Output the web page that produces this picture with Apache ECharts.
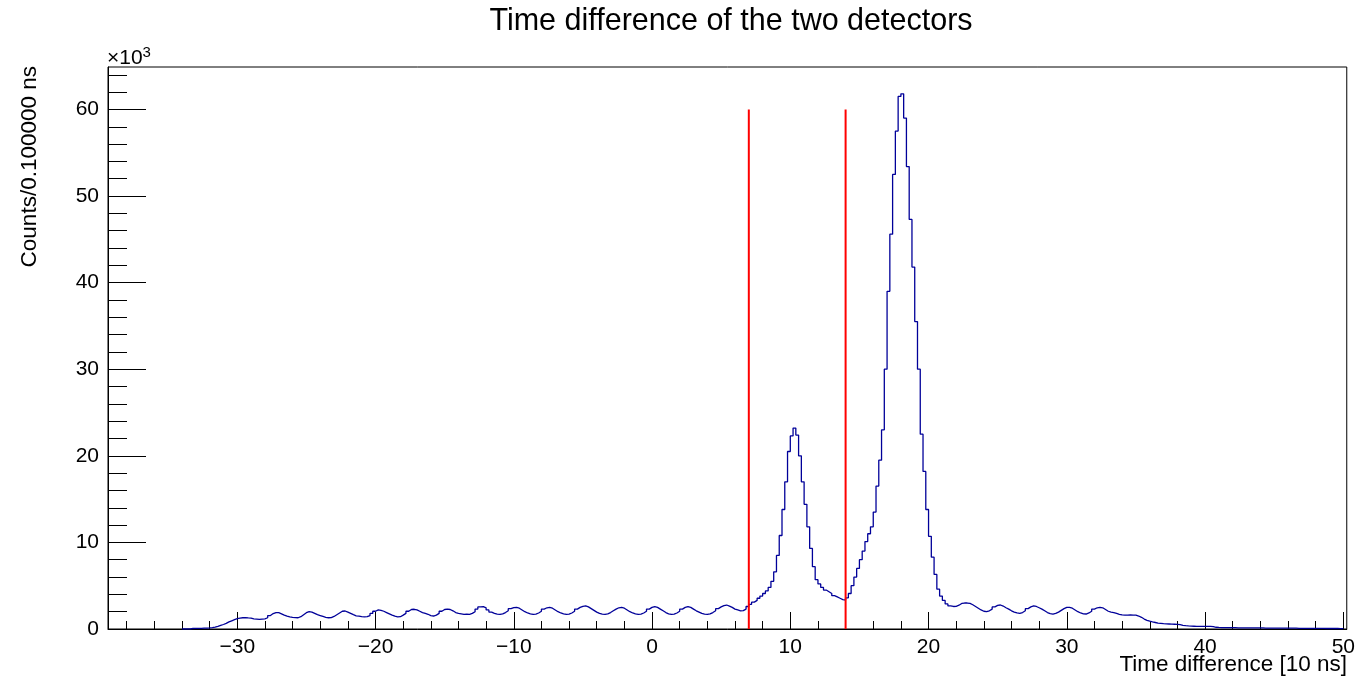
<!DOCTYPE html>
<html>
<head>
<meta charset="utf-8">
<script src="https://cdn.jsdelivr.net/npm/echarts@6.0.0/dist/echarts.min.js"></script>
<style>
html,body{margin:0;padding:0;background:#fff;}
#chart{width:1358px;height:681px;}
</style>
</head>
<body>
<div id="chart"></div>
<script>
// ---- data (counts in units of 10^3, bins of 0.2 starting at -34) ----
var binStart = -34;
var binWidth = 0.2;
var counts = [
0,0,0,0.06,0.08, 0.08,0.08,0.09,0.1,0.12, 0.16,0.22,0.3,0.42,0.52, 0.65,0.82,0.95,1.08,1.2,
1.25,1.3,1.32,1.28,1.25, 1.18,1.15,1.12,1.15,1.18, 1.3,1.55,1.78,1.9,1.88, 1.75,1.6,1.48,1.4,1.35,
1.32,1.3,1.42,1.65,1.88, 2.0,1.95,1.8,1.65,1.55, 1.45,1.35,1.3,1.32,1.45, 1.65,1.85,2.05,2.08,1.95,
1.8,1.65,1.52,1.48,1.42, 1.4,1.42,1.55,1.8,2.05, 2.2,2.15,2.05,1.9,1.75, 1.6,1.48,1.4,1.42,1.6,
1.8,2.05,2.25,2.28,2.2, 2.05,1.9,1.8,1.7,1.55, 1.5,1.6,1.8,2.05,2.25, 2.3,2.25,2.1,1.9,1.8,
1.75,1.7,1.72,1.7,1.8, 2.0,2.3,2.55,2.58,2.45, 2.2,1.95,1.8,1.72,1.7, 1.75,1.9,2.1,2.35,2.48,
2.5,2.4,2.2,2.0,1.85, 1.75,1.7,1.72,1.85,2.05, 2.3,2.45,2.5,2.4,2.2, 2.0,1.85,1.75,1.7,1.72,
1.85,2.05,2.3,2.5,2.62, 2.66,2.55,2.35,2.15,1.95, 1.8,1.72,1.7,1.75,1.9, 2.1,2.3,2.45,2.5,2.4,
2.2,2.0,1.85,1.75,1.7, 1.72,1.85,2.05,2.3,2.5, 2.58,2.5,2.3,2.1,1.9, 1.75,1.7,1.72,1.85,2.05,
2.3,2.5,2.58,2.5,2.3, 2.1,1.95,1.8,1.72,1.7, 1.75,1.9,2.1,2.35,2.55, 2.7,2.77,2.65,2.5,2.3,
2.2,2.1,2.12,2.3,2.6, 2.85,3.1,3.3,3.55,3.8, 4.1,4.4,4.8,5.5,6.6, 8.5,10.8,13.8,17.0,20.5,
22.3,23.2,22.4,20.0,17.0, 14.4,11.8,9.3,7.2,5.7, 5.2,4.8,4.5,4.3,4.1, 3.85,3.7,3.55,3.4,3.35,
3.6,4.1,5.0,6.0,7.0, 8.0,9.0,10.1,11.0,11.8, 13.5,16.5,19.5,23.0,30.0, 39.0,45.6,52.5,57.5,61.5,
61.8,59.0,53.4,47.3,41.8, 35.5,30.0,22.5,18.2,13.8, 10.7,8.3,6.3,4.6,3.8, 3.3,2.9,2.66,2.6,2.62,
2.75,2.95,3.0,3.0,2.95, 2.8,2.6,2.4,2.2,2.05, 2.0,2.1,2.3,2.55,2.72, 2.77,2.65,2.45,2.3,2.1,
1.95,1.85,1.8,1.9,2.1, 2.35,2.55,2.66,2.6,2.45, 2.3,2.1,1.9,1.78,1.73, 1.8,1.95,2.15,2.35,2.5,
2.5,2.4,2.2,2.0,1.85, 1.75,1.73,1.85,2.05,2.3, 2.45,2.5,2.45,2.25,2.05, 1.95,1.9,1.8,1.7,1.62,
1.6,1.6,1.62,1.6,1.6, 1.5,1.35,1.15,1.0,0.9, 0.82,0.75,0.68,0.65,0.62, 0.6,0.58,0.56,0.55,0.54,
0.5,0.42,0.38,0.35,0.33, 0.32,0.31,0.3,0.3,0.3, 0.3,0.3,0.28,0.2,0.18, 0.17,0.16,0.16,0.15,0.15,
0.15,0.14,0.14,0.14,0.13, 0.13,0.13,0.12,0.12,0.12, 0.12,0.11,0.11,0.11,0.1, 0.1,0.1,0.1,0.1,0.09,
0.09,0.09,0.09,0.08,0.08, 0.08,0.08,0.08,0.07,0.07, 0.07,0.07,0.07,0.06,0.06, 0.06,0.06,0.06,0.05,0.05
];
var cutLines = [7, 14];
var cutHeight = 60;

var xMajorTicks = [-30,-20,-10,0,10,20,30,40,50];
var xMinorTicks = [-38,-36,-34,-32,-28,-26,-24,-22,-18,-16,-14,-12,-8,-6,-4,-2,2,4,6,8,12,14,16,18,22,24,26,28,32,34,36,38,42,44,46,48];
var yMajorTicks = [0,10,20,30,40,50,60];
var yMinorTicks = [2,4,6,8,12,14,16,18,22,24,26,28,32,34,36,38,42,44,46,48,52,54,56,58,62,64];

var titleText = 'Time difference of the two detectors';
var xTitle = 'Time difference [10 ns]';
var yTitle = 'Counts/0.100000 ns';
var yScaleText = '\u00d710';
var yScaleExp = '3';

// ---- build ----
var X_MIN = -39.35, X_MAX = 50.25, Y_MIN = 0, Y_MAX = 64.9;
var FONT = '"Liberation Sans", Arial, Helvetica, sans-serif';

var histData = counts.map(function (v, i) { return [binStart + i * binWidth, v]; });
histData.push([binStart + counts.length * binWidth, counts[counts.length - 1]]);

function fmtX(v) { return v < 0 ? '\u2212' + Math.abs(v) : String(v); }

var chart = echarts.init(document.getElementById('chart'), null, {renderer: 'canvas'});

var series = [{
  type: 'line', xAxisIndex: 0, yAxisIndex: 0, data: histData, step: 'end',
  showSymbol: false, symbol: 'none', silent: true,
  lineStyle: {color: '#000099', width: 1.3}, z: 3
}];
cutLines.forEach(function (c) {
  series.push({
    type: 'line', xAxisIndex: 0, yAxisIndex: 0, data: [[c, 0], [c, cutHeight]],
    showSymbol: false, symbol: 'none', silent: true,
    lineStyle: {color: '#ff0000', width: 2}, z: 4
  });
});

var option = {
  animation: false,
  backgroundColor: '#ffffff',
  grid: {left: 108, right: 11, top: 67, bottom: 52, show: true, borderColor: '#000', borderWidth: 1, containLabel: false},
  xAxis: [{
    type: 'value', min: X_MIN, max: X_MAX, position: 'bottom',
    axisLine: {show: true, onZero: false, lineStyle: {color: '#000', width: 1}},
    axisTick: {show: true, inside: true, length: 17, customValues: xMajorTicks, lineStyle: {color: '#000', width: 1}},
    axisLabel: {show: true, customValues: xMajorTicks, formatter: fmtX, color: '#000', fontSize: 21, fontFamily: FONT, margin: 8},
    splitLine: {show: false}
  }, {
    type: 'value', min: X_MIN, max: X_MAX, position: 'bottom',
    axisLine: {show: false, onZero: false},
    axisTick: {show: true, inside: true, length: 8, customValues: xMinorTicks, lineStyle: {color: '#000', width: 1}},
    axisLabel: {show: false},
    splitLine: {show: false}
  }],
  yAxis: [{
    type: 'value', min: Y_MIN, max: Y_MAX, position: 'left',
    axisLine: {show: true, onZero: false, lineStyle: {color: '#000', width: 1}},
    axisTick: {show: true, inside: true, length: 38, customValues: yMajorTicks, lineStyle: {color: '#000', width: 1}},
    axisLabel: {show: true, customValues: yMajorTicks, color: '#000', fontSize: 21, fontFamily: FONT, margin: 9},
    splitLine: {show: false}
  }, {
    type: 'value', min: Y_MIN, max: Y_MAX, position: 'left',
    axisLine: {show: false, onZero: false},
    axisTick: {show: true, inside: true, length: 19, customValues: yMinorTicks, lineStyle: {color: '#000', width: 1}},
    axisLabel: {show: false},
    splitLine: {show: false}
  }],
  graphic: [
    {type: 'text', x: 731, y: 22, style: {text: titleText, font: '30.5px ' + FONT, fill: '#000', align: 'center', verticalAlign: 'middle'}},
    {type: 'text', x: 1347, y: 665, style: {text: xTitle, font: '22.5px ' + FONT, fill: '#000', align: 'right', verticalAlign: 'middle'}},
    {type: 'text', x: 30, y: 66, rotation: Math.PI / 2, style: {text: yTitle, font: '22.5px ' + FONT, fill: '#000', align: 'right', verticalAlign: 'middle'}},
    {type: 'text', x: 107, y: 58, style: {
      text: '{b|' + yScaleText + '}{s|' + yScaleExp + '}', fill: '#000', align: 'left', verticalAlign: 'middle',
      rich: {b: {font: '21px ' + FONT, fill: '#000'}, s: {font: '15px ' + FONT, fill: '#000', verticalAlign: 'top', padding: [0, 0, 10, 0]}}
    }}
  ],
  series: series
};
chart.setOption(option);
</script>
</body>
</html>
